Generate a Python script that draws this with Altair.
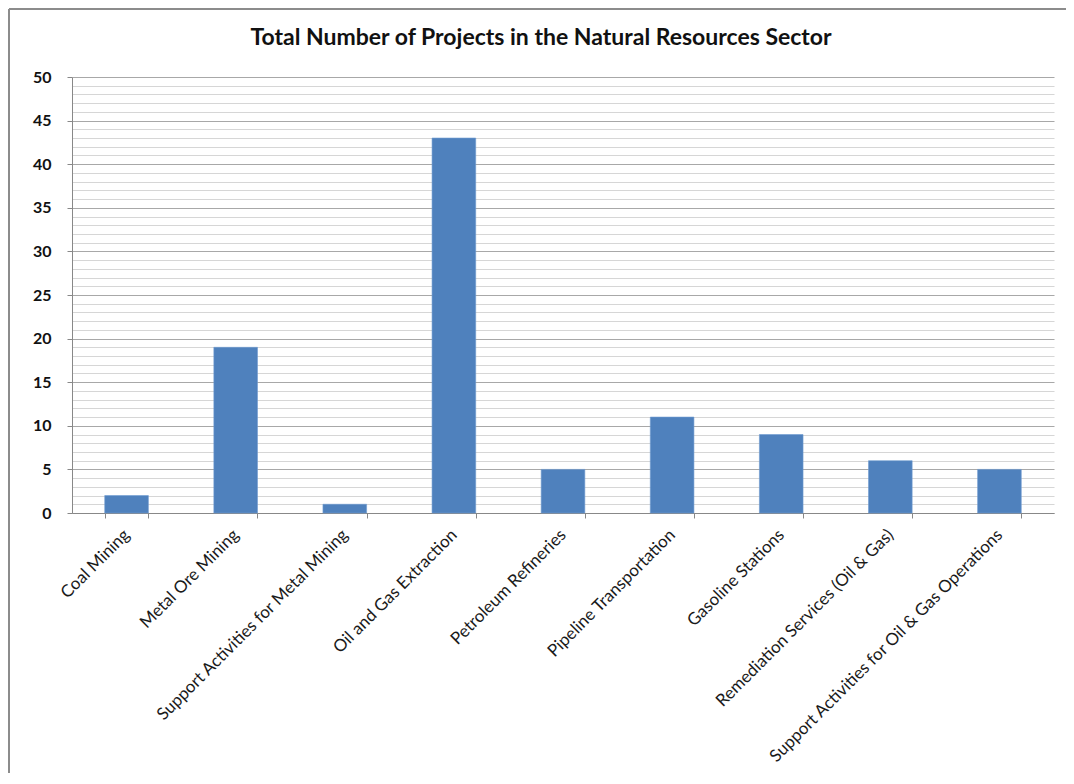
import altair as alt
import pandas as pd

title_text = "Total Number of Projects in the Natural Resources Sector"
categories = [
    "Coal Mining",
    "Metal Ore Mining",
    "Support Activities for Metal Mining",
    "Oil and Gas Extraction",
    "Petroleum Refineries",
    "Pipeline Transportation",
    "Gasoline Stations",
    "Remediation Services (Oil & Gas)",
    "Support Activities for Oil & Gas Operations",
]
projects = [2, 19, 1, 43, 5, 11, 9, 6, 5]
y_ticks = list(range(0, 51))

df = pd.DataFrame({"category": categories, "projects": projects})
title_df = pd.DataFrame({"t": [title_text]})

FONT = "Lato"

bars = alt.Chart(df).mark_bar(color="#4F81BD", stroke="#6f9ad0", strokeWidth=0.6).encode(
    x=alt.X(
        "category:N",
        sort=categories,
        title=None,
        scale=alt.Scale(paddingInner=0.6, paddingOuter=0.3),
        axis=alt.Axis(
            labelAngle=-45,
            labelAlign="right",
            labelBaseline="middle",
            labelPadding=14,
            labelFontSize=17,
            labelFont=FONT,
            labelColor="#1a1a1a",
            labelLimit=500,
            tickBand="extent",
            tickSize=5,
            tickColor="#888888",
            domainColor="#888888",
            grid=False,
        ),
    ),
    y=alt.Y(
        "projects:Q",
        title=None,
        scale=alt.Scale(domain=[0, 50], nice=False),
        axis=alt.Axis(
            values=y_ticks,
            labelExpr="datum.value % 5 === 0 ? datum.label : ''",
            labelFontSize=16,
            labelFont=FONT,
            labelFontWeight="bold",
            labelColor="#111111",
            labelPadding=16,
            tickSize=5,
            tickColor=alt.condition("datum.value % 5 === 0", alt.value("#888888"), alt.value("transparent")),
            domainColor="#888888",
            gridColor=alt.condition("datum.value % 5 === 0", alt.value("#a8a8a8"), alt.value("#d6d6d6")),
            gridWidth=1.2,
        ),
    ),
)

frame_left = alt.Chart(df).mark_rule(color="#8c8c8c", strokeWidth=2).encode(
    x=alt.value(-63), y=alt.value(-68), y2=alt.value(720)
)
frame_top = alt.Chart(df).mark_rule(color="#8c8c8c", strokeWidth=2).encode(
    x=alt.value(-63), x2=alt.value(1100), y=alt.value(-68)
)

title_mark = alt.Chart(title_df).mark_text(
    font=FONT, fontSize=23, fontWeight="bold", color="#111111", align="center", baseline="middle"
).encode(text="t:N", x=alt.value(469), y=alt.value(-39))

chart = alt.layer(frame_left, frame_top, bars, title_mark).properties(
    width=982,
    height=436,
    autosize=alt.AutoSizeParams(type="none"),
    padding={"left": 64, "top": 69, "right": 12, "bottom": 260},
).configure_view(stroke=None)

chart.save("out.html", embed_options={"renderer": "svg", "actions": False})
